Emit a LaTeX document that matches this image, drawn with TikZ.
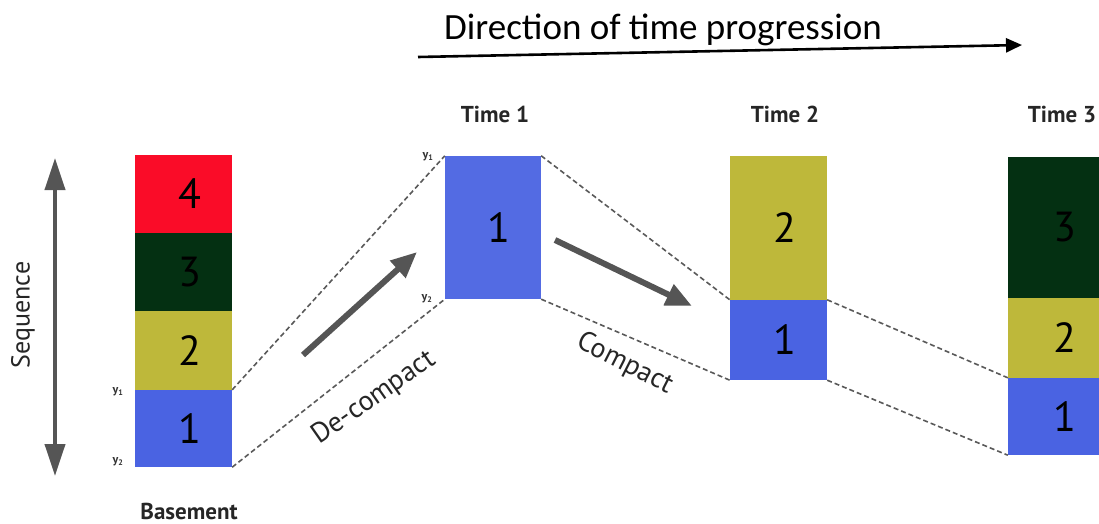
\documentclass[tikz,border=0pt]{standalone}
\usepackage{fontspec}
\setmainfont{PT Sans}
\newfontfamily\calib{Carlito}
\usetikzlibrary{arrows.meta}
\definecolor{layred}{RGB}{250,12,40}
\definecolor{laygreen}{RGB}{4,48,18}
\definecolor{layolive}{RGB}{190,184,58}
\definecolor{layblue}{RGB}{74,99,226}
\definecolor{arrowgray}{RGB}{85,85,85}
\tikzset{
  layer/.style={draw=none, inner sep=0pt, minimum width=97pt, text=black,
    font=\fontsize{42}{42}\selectfont},
  caption/.style={inner sep=0pt, font=\fontsize{23}{23}\selectfont\bfseries, text=black!85},
  ylab/.style={inner sep=0pt, font=\fontsize{12}{12}\selectfont\bfseries, text=black!80},
  link/.style={dashed, dash pattern=on 5pt off 3pt, line width=1.6pt, draw=black!65},
  bigarrow/.style={draw=arrowgray, line width=6pt, -{Triangle[length=26pt,width=22pt]}},
  steplabel/.style={inner sep=0pt, font=\fontsize{28}{28}\selectfont, text=black!85}
}
\newcommand{\dig}[1]{\hspace*{12pt}#1}
\begin{document}
\begin{tikzpicture}[x=1pt, y=-1pt]
\useasboundingbox (0,0) rectangle (1099,524);
\clip (0,0) rectangle (1099,524);

% time axis
\node[inner sep=0pt, anchor=base, font=\calib\fontsize{37}{37}\selectfont] (dir) at (663,40) {Direction of time progression};
\coordinate (tstart) at (418,57);
\coordinate (tend) at (1022,45);
\draw[line width=2.6pt, -{Triangle[length=16pt,width=14pt]}] (tstart) -- (tend);

% sequence axis
\coordinate (sbot) at (55,476);
\coordinate (stop) at (55,158);
\draw[draw=arrowgray, line width=4pt, {Triangle[length=32pt,width=20pt]}-{Triangle[length=32pt,width=20pt]}] (sbot) -- (stop);
\node[inner sep=0pt, rotate=90, font=\fontsize{26}{26}\selectfont, text=black!85] (seq) at (23,315) {Sequence};

% basement column
\node[layer, fill=layred, minimum height=78pt] (b4) at (183.5,194) {\dig{4}};
\node[layer, fill=laygreen, minimum height=78pt] (b3) at (183.5,272) {\dig{3}};
\node[layer, fill=layolive, minimum height=79pt] (b2) at (183.5,350.5) {\dig{2}};
\node[layer, fill=layblue, minimum height=77pt] (b1) at (183.5,428.5) {\dig{1}};
\node[caption] (base) at (189,511) {Basement};
\node[ylab] (by1) at (118,392) {y\textsubscript{1}};
\node[ylab] (by2) at (118,462) {y\textsubscript{2}};

% time 1
\node[layer, fill=layblue!95!white, minimum width=96pt, minimum height=143pt] (t1) at (493,227.5) {\dig{1}};
\node[caption] (t1cap) at (495,114) {Time 1};
\node[ylab] (ty1) at (428,157) {y\textsubscript{1}};
\node[ylab] (ty2) at (427,299) {y\textsubscript{2}};

% time 2
\node[layer, fill=layolive, minimum height=144pt] (u2) at (778.5,228) {\dig{2}};
\node[layer, fill=layblue, minimum height=80pt] (u1) at (778.5,340) {\dig{1}};
\node[caption] (t2cap) at (785,114) {Time 2};

% time 3
\node[layer, fill=laygreen, minimum width=114pt, minimum height=141pt] (v3) at (1065,227.5) {3};
\node[layer, fill=layolive, minimum width=114pt, minimum height=80pt] (v2) at (1065,338) {2};
\node[layer, fill=layblue, minimum width=114pt, minimum height=77pt] (v1) at (1065,416.5) {1};
\node[caption] (t3cap) at (1062,114) {Time 3};

% dashed links between the layer-1 boundaries
\draw[link] (b1.north east) -- (t1.north west);
\draw[link] (b1.south east) -- (t1.south west);
\draw[link] (t1.north east) -- (u1.north west);
\draw[link] (t1.south east) -- (u1.south west);
\draw[link] (u1.north east) -- (v1.north west);
\draw[link] (u1.south east) -- (v1.south west);

% process arrows
\coordinate (da) at (303,355);
\coordinate (db) at (417,252);
\coordinate (ca) at (555,240);
\coordinate (cb) at (692,306);
\draw[bigarrow] (da) -- (db);
\draw[bigarrow] (ca) -- (cb);
\node[steplabel, rotate=35] (dec) at (374,398) {De-compact};
\node[steplabel, rotate=-27] (com) at (625,364) {Compact};
\end{tikzpicture}
\end{document}
